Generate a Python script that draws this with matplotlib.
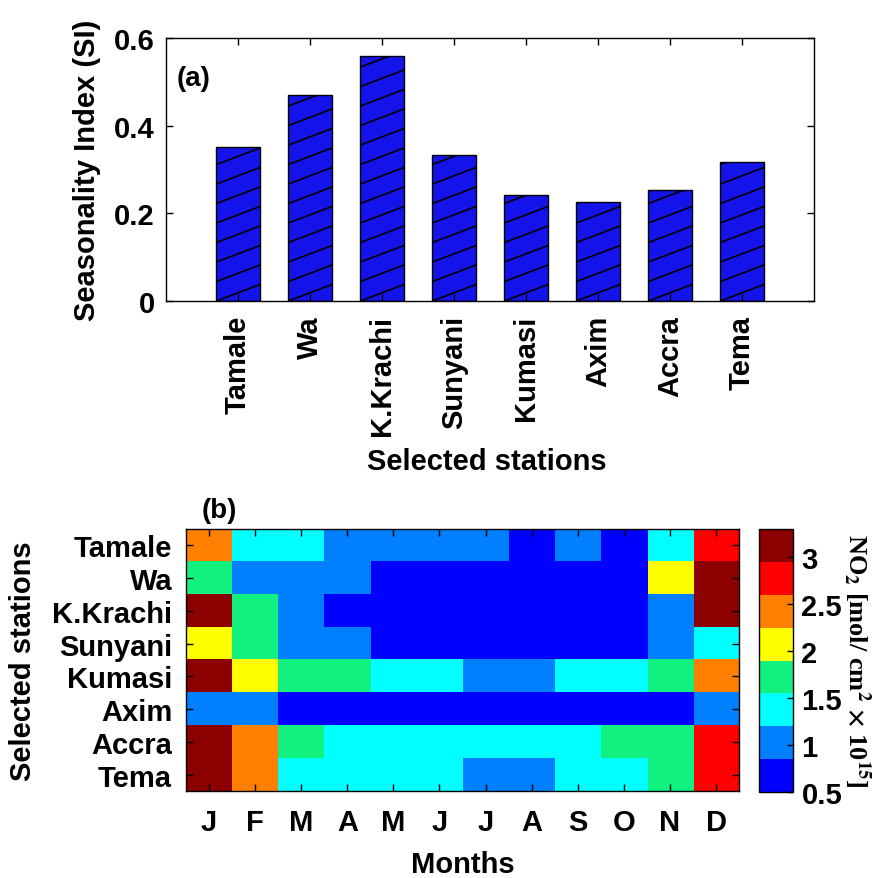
import numpy as np
import matplotlib
matplotlib.use("Agg")
import matplotlib.pyplot as plt
from matplotlib.colors import ListedColormap

plt.rcParams['font.family'] = ['Liberation Sans', 'DejaVu Sans']
plt.rcParams['font.weight'] = 'bold'
plt.rcParams['axes.labelweight'] = 'bold'
plt.rcParams['mathtext.fontset'] = 'stix'

# seasonality index per station
stations = ['Tamale', 'Wa', 'K.Krachi', 'Sunyani', 'Kumasi', 'Axim', 'Accra', 'Tema']
si = [0.351, 0.470, 0.559, 0.333, 0.243, 0.225, 0.254, 0.317]

# monthly NO2 column (x 1e15 mol/cm2), rows follow `stations`
months = ['J', 'F', 'M', 'A', 'M', 'J', 'J', 'A', 'S', 'O', 'N', 'D']
no2_tamale = [2.45, 1.42, 1.35, 1.08, 0.98, 0.95, 0.92, 0.78, 0.90, 0.82, 1.45, 2.85]
no2_wa = [1.72, 1.05, 0.98, 0.95, 0.80, 0.72, 0.68, 0.66, 0.70, 0.76, 2.12, 3.12]
no2_kkrachi = [3.05, 1.65, 0.96, 0.84, 0.74, 0.68, 0.64, 0.62, 0.66, 0.72, 1.10, 3.15]
no2_sunyani = [2.15, 1.68, 1.02, 0.93, 0.80, 0.72, 0.66, 0.64, 0.68, 0.78, 1.12, 1.48]
no2_kumasi = [3.00, 2.05, 1.75, 1.62, 1.45, 1.30, 1.15, 1.12, 1.25, 1.40, 1.80, 2.45]
no2_axim = [1.05, 0.95, 0.82, 0.75, 0.70, 0.66, 0.64, 0.62, 0.65, 0.70, 0.84, 1.10]
no2_accra = [3.10, 2.50, 1.70, 1.50, 1.40, 1.30, 1.25, 1.28, 1.38, 1.60, 1.85, 2.90]
no2_tema = [3.05, 2.40, 1.50, 1.40, 1.32, 1.25, 1.15, 1.10, 1.30, 1.45, 1.78, 2.80]
no2 = np.array([no2_tamale, no2_wa, no2_kkrachi, no2_sunyani,
                no2_kumasi, no2_axim, no2_accra, no2_tema])

cbar_ticks = [0.5, 1, 1.5, 2, 2.5, 3]
cbar_labels = ['0.5', '1', '1.5', '2', '2.5', '3']

# 8-step jet
jet8 = ListedColormap(['#0000ff', '#0080ff', '#00ffff', '#12f080',
                       '#ffff00', '#ff8000', '#ff0000', '#8c0000'])

fig = plt.figure(figsize=(8.77, 8.79), dpi=100)

# ---- (a) bar chart ----
ax1 = fig.add_axes([0.1893, 0.6564, 0.7389, 0.2992])
pos = np.arange(1, len(stations) + 1)
bars = ax1.bar(pos, si, width=0.6, color='#1414ea', edgecolor='black', linewidth=1)
ax1.set_xlim(0, 9)
ax1.set_ylim(0, 0.6)
ax1.set_yticks([0, 0.2, 0.4, 0.6])
ax1.set_yticklabels(['0', '0.2', '0.4', '0.6'])
ax1.set_xticks(pos)
ax1.set_xticklabels(stations, rotation=90)
ax1.tick_params(direction='in', top=True, right=True, length=5, width=1,
                labelsize=21)
ax1.tick_params(axis='x', pad=10)
ax1.tick_params(axis='y', pad=8)
ax1.set_ylabel('Seasonality Index (SI)', fontsize=21)
ax1.yaxis.set_label_coords(-0.10, 0.5)
ax1.set_xlabel('Selected stations', fontsize=21)
ax1.xaxis.set_label_coords(0.495, -0.555)
ax1.text(0.017, 0.848, '(a)', transform=ax1.transAxes, fontsize=20,
         ha='left', va='center')
for s in ax1.spines.values():
    s.set_linewidth(1)

# slanted hatch lines inside each bar
px_x = ax1.transData.transform((1, 0))[0] - ax1.transData.transform((0, 0))[0]
px_y = ax1.transData.transform((0, 1))[1] - ax1.transData.transform((0, 0))[1]
slope = 0.38 * px_x / px_y
step = 19.5 / px_y
for b in bars:
    x0, w, h = b.get_x(), b.get_width(), b.get_height()
    rise = slope * w
    for k in range(-int(np.ceil(rise / step)), int(np.ceil(h / step)) + 1):
        c = k * step
        ln, = ax1.plot([x0, x0 + w], [c, c + rise], color='black', lw=1.2)
        ln.set_clip_path(b)

# ---- (b) monthly NO2 heatmap ----
ax2 = fig.add_axes([0.2121, 0.0990, 0.6306, 0.2981])
im = ax2.imshow(no2, cmap=jet8, vmin=0.5, vmax=3.3, aspect='auto',
                interpolation='nearest')
ax2.set_xticks(np.arange(len(months)))
ax2.set_xticklabels(months)
ax2.set_yticks(np.arange(len(stations)))
ax2.set_yticklabels(stations)
ax2.tick_params(direction='in', top=True, right=True, length=5, width=1,
                labelsize=21)
ax2.tick_params(axis='x', pad=12)
ax2.tick_params(axis='y', pad=10)
ax2.set_xlabel('Months', fontsize=21)
ax2.xaxis.set_label_coords(0.5, -0.225)
ax2.set_ylabel('Selected stations', fontsize=21)
ax2.yaxis.set_label_coords(-0.269, 0.5)
for s in ax2.spines.values():
    s.set_linewidth(1)
fig.text(0.2497, 0.4187, '(b)', fontsize=20, ha='center', va='center')

cax = fig.add_axes([0.8655, 0.0978, 0.0388, 0.2992])
cb = fig.colorbar(im, cax=cax, ticks=cbar_ticks)
cb.ax.set_yticklabels(cbar_labels)
cb.ax.tick_params(direction='in', length=4, width=1, labelsize=21, pad=6)
cb.outline.set_linewidth(1)
fig.text(0.977, 0.248, r'NO$_2$ [mol/ cm$^2$ $\times$ 10$^{15}$]',
         family='Liberation Serif', fontsize=19, rotation=270,
         ha='center', va='center')

fig.savefig('out.png', dpi=100)
